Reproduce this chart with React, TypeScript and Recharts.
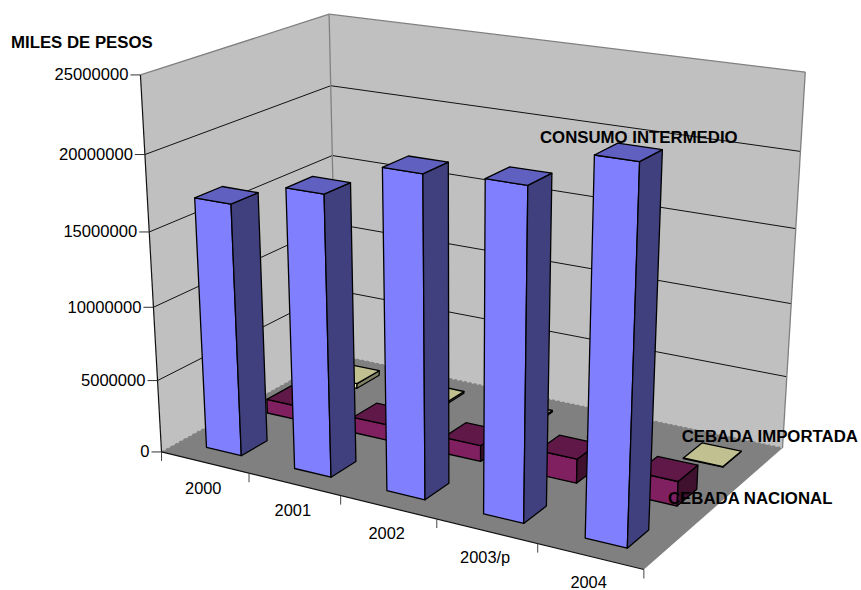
import React from 'react';
import { ComposedChart, Bar, XAxis, YAxis, Customized, LabelList } from 'recharts';

// Chart values, in miles de pesos
const categories = ['2000', '2001', '2002', '2003/p', '2004'];
const consumoIntermedio = [17000000, 18650000, 20900000, 21200000, 23550000];
const cebadaNacional = [1000000, 1100000, 1100000, 1650000, 1650000];
const cebadaImportada = [350000, 130000, 100000, 100000, 40000];
const valueTicks = [0, 5000000, 10000000, 15000000, 20000000, 25000000];
const AXIS_MAX = 25000000;

const rows = categories.map((year, i) => ({
  year,
  consumo: consumoIntermedio[i],
  nacional: cebadaNacional[i],
  importada: cebadaImportada[i],
}));

const WIDTH = 861;
const HEIGHT = 590;
const PLOT_TOP = 75;
const PLOT_BOTTOM = 452;
const PLOT_H = PLOT_BOTTOM - PLOT_TOP;

// Known places of the box edges: [along categories, along series, up, screen x, screen y]
const boxAnchors: number[][] = [
  [0, 0, 0, 162, 452], [0, 0, 0.2, 157.5, 381], [0, 0, 0.4, 153.5, 307.5],
  [0, 0, 0.6, 149, 232], [0, 0, 0.8, 145, 154], [0, 0, 1, 140, 75],
  [0, 1, 0, 336, 354], [0, 1, 0.6, 333, 156], [0, 1, 0.8, 331, 86], [0, 1, 1, 329, 14],
  [1, 1, 0, 783, 449], [1, 1, 0.2, 787, 377], [1, 1, 0.4, 791, 303],
  [1, 1, 0.6, 795, 228], [1, 1, 0.8, 800, 152], [1, 1, 1, 806, 72],
  [1, 0, 0, 644, 569], [0.2, 0, 0, 249, 473], [0.4, 0, 0, 340.7, 496.7],
  [0.6, 0, 0, 436.7, 519], [0.8, 0, 0, 537.7, 543],
];

// Least-squares fit of a 3D projective camera to the anchors
function fitCamera(anchors: number[][]): number[] {
  const eqs: number[][] = [];
  anchors.forEach(([u, v, w, sx, sy]) => {
    const x = sx / WIDTH;
    const y = sy / HEIGHT;
    eqs.push([u, v, w, 1, 0, 0, 0, 0, -x * u, -x * v, -x * w, x]);
    eqs.push([0, 0, 0, 0, u, v, w, 1, -y * u, -y * v, -y * w, y]);
  });
  const n = 11;
  const m: number[][] = Array.from({ length: n }, () => new Array(n + 1).fill(0));
  eqs.forEach((e) => {
    for (let i = 0; i < n; i++) {
      for (let j = 0; j <= n; j++) m[i][j] += e[i] * e[j];
    }
  });
  for (let c = 0; c < n; c++) {
    let best = c;
    for (let r = c + 1; r < n; r++) if (Math.abs(m[r][c]) > Math.abs(m[best][c])) best = r;
    [m[c], m[best]] = [m[best], m[c]];
    for (let r = 0; r < n; r++) {
      if (r === c) continue;
      const f = m[r][c] / m[c][c];
      for (let j = c; j <= n; j++) m[r][j] -= f * m[c][j];
    }
  }
  return m.map((row, i) => row[n] / row[i]);
}

const cam = fitCamera(boxAnchors);

function project(u: number, v: number, w: number): [number, number] {
  const d = cam[8] * u + cam[9] * v + cam[10] * w + 1;
  return [
    ((cam[0] * u + cam[1] * v + cam[2] * w + cam[3]) / d) * WIDTH,
    ((cam[4] * u + cam[5] * v + cam[6] * w + cam[7]) / d) * HEIGHT,
  ];
}

const pts = (list: [number, number, number][]) =>
  list.map(([u, v, w]) => project(u, v, w).map((c) => c.toFixed(1)).join(',')).join(' ');

const seg = (a: [number, number, number], b: [number, number, number], props: any) => {
  const [x1, y1] = project(a[0], a[1], a[2]);
  const [x2, y2] = project(b[0], b[1], b[2]);
  return <line x1={x1} y1={y1} x2={x2} y2={y2} {...props} />;
};

// Walls, floor and gridlines of the box
function BoxFrame() {
  const edge = { stroke: '#808080', strokeWidth: 1.3 };
  return (
    <g>
      <polygon points={pts([[0, 0, 0], [0, 1, 0], [0, 1, 1], [0, 0, 1]])} fill="#c0c0c0" />
      <polygon points={pts([[0, 1, 0], [1, 1, 0], [1, 1, 1], [0, 1, 1]])} fill="#c0c0c0" />
      <polygon points={pts([[0, 0, 0], [1, 0, 0], [1, 1, 0], [0, 1, 0]])} fill="#808080" />
      {valueTicks.slice(1, 5).map((t) => {
        const w = t / AXIS_MAX;
        return (
          <g key={t}>
            {seg([0, 0, w], [0, 1, w], { stroke: '#111', strokeWidth: 1 })}
            {seg([0, 1, w], [1, 1, w], { stroke: '#111', strokeWidth: 1 })}
          </g>
        );
      })}
      {seg([0, 0, 1], [0, 1, 1], edge)}
      {seg([0, 1, 1], [1, 1, 1], edge)}
      {seg([0, 1, 0], [0, 1, 1], edge)}
      {seg([1, 1, 0], [1, 1, 1], edge)}
      {seg([0, 0, 0], [0, 1, 0], { stroke: '#808080', strokeWidth: 1.2, strokeDasharray: '3 2' })}
      {seg([0, 1, 0], [1, 1, 0], { stroke: '#808080', strokeWidth: 1.2, strokeDasharray: '3 2' })}
      {seg([0, 0, 0], [0, 0, 1], { stroke: '#111', strokeWidth: 1.2 })}
      {seg([0, 0, 0], [1, 0, 0], { stroke: '#111', strokeWidth: 1.2 })}
      {categories.concat('').map((_, i) => {
        const [x, y] = project(i / categories.length, 0, 0);
        return <line key={i} x1={x} y1={y} x2={x} y2={y + 9} stroke="#444" strokeWidth={1} />;
      })}
    </g>
  );
}

// A 3D column drawn from the bar height that the value axis gives
function makeColumn(depthSlot: number, front: string, side: string, top: string) {
  return function Column(props: any) {
    const { index, height } = props;
    const h = Math.max(0, height) / PLOT_H;
    const n = categories.length;
    const u0 = (index + 0.3) / n;
    const u1 = (index + 0.7) / n;
    const v0 = (depthSlot + 0.3) / 3;
    const v1 = (depthSlot + 0.72) / 3;
    const line = { stroke: '#000', strokeWidth: 1.3, strokeLinejoin: 'round' as const };
    return (
      <g>
        <polygon points={pts([[u0, v0, 0], [u1, v0, 0], [u1, v0, h], [u0, v0, h]])} fill={front} {...line} />
        <polygon points={pts([[u1, v0, 0], [u1, v1, 0], [u1, v1, h], [u1, v0, h]])} fill={side} {...line} />
        <polygon points={pts([[u0, v0, h], [u1, v0, h], [u1, v1, h], [u0, v1, h]])} fill={top} {...line} />
      </g>
    );
  };
}

const ConsumoColumn = makeColumn(0, '#8080ff', '#40407f', '#6060c0');
const NacionalColumn = makeColumn(1, '#802060', '#40102f', '#601848');
const ImportadaColumn = makeColumn(2, '#ffffcc', '#808066', '#c0c090');

function ValueTick(props: any) {
  const w = props.payload.value / AXIS_MAX;
  const [x, y] = project(0, 0, w);
  return (
    <g>
      <line x1={x - 10} y1={y} x2={x} y2={y} stroke="#333" strokeWidth={1} />
      <text x={x - 12} y={y + 5.5} textAnchor="end" fontSize={16.6} fill="#000" fontFamily="Liberation Sans">
        {props.payload.value}
      </text>
    </g>
  );
}

function CategoryTick(props: any) {
  const i = categories.indexOf(props.payload.value);
  const [x, y] = project((i + 0.5) / categories.length, 0, 0);
  return (
    <text x={x - 1.5} y={y + 32} textAnchor="middle" fontSize={16.4} fill="#000" fontFamily="Liberation Sans">
      {props.payload.value}
    </text>
  );
}

const captionStyle = { fontSize: 16.8, fontWeight: 'bold', fill: '#000', fontFamily: 'Liberation Sans' };

function AxisTitle() {
  return (
    <text x={11} y={47.7} {...captionStyle}>
      MILES DE PESOS
    </text>
  );
}

// Series name, written once beside the last category of the series
const seriesCaption = (name: string, x: number, y: number) => (props: any) =>
  props.index === categories.length - 1 ? (
    <text x={x} y={y} {...captionStyle}>
      {name}
    </text>
  ) : null;

export default function App() {
  return (
    <div style={{ position: 'fixed', left: 0, top: 0, background: '#fff' }}>
      <ComposedChart
        width={WIDTH}
        height={HEIGHT}
        data={rows}
        margin={{ top: PLOT_TOP, right: 78, bottom: 0, left: 0 }}
      >
        <XAxis dataKey="year" height={HEIGHT - PLOT_BOTTOM} axisLine={false} tickLine={false} interval={0} tick={<CategoryTick />} />
        <YAxis width={140} domain={[0, AXIS_MAX]} ticks={valueTicks} axisLine={false} tickLine={false} tick={<ValueTick />} />
        <Customized component={<BoxFrame />} />
        <Customized component={<AxisTitle />} />
        <Bar dataKey="importada" isAnimationActive={false} shape={<ImportadaColumn />}>
          <LabelList dataKey="importada" content={seriesCaption('CEBADA IMPORTADA', 681.7, 442.3)} />
        </Bar>
        <Bar dataKey="nacional" isAnimationActive={false} shape={<NacionalColumn />}>
          <LabelList dataKey="nacional" content={seriesCaption('CEBADA NACIONAL', 668, 504.3)} />
        </Bar>
        <Bar dataKey="consumo" isAnimationActive={false} shape={<ConsumoColumn />}>
          <LabelList dataKey="consumo" content={seriesCaption('CONSUMO INTERMEDIO', 540, 142.7)} />
        </Bar>
      </ComposedChart>
    </div>
  );
}
